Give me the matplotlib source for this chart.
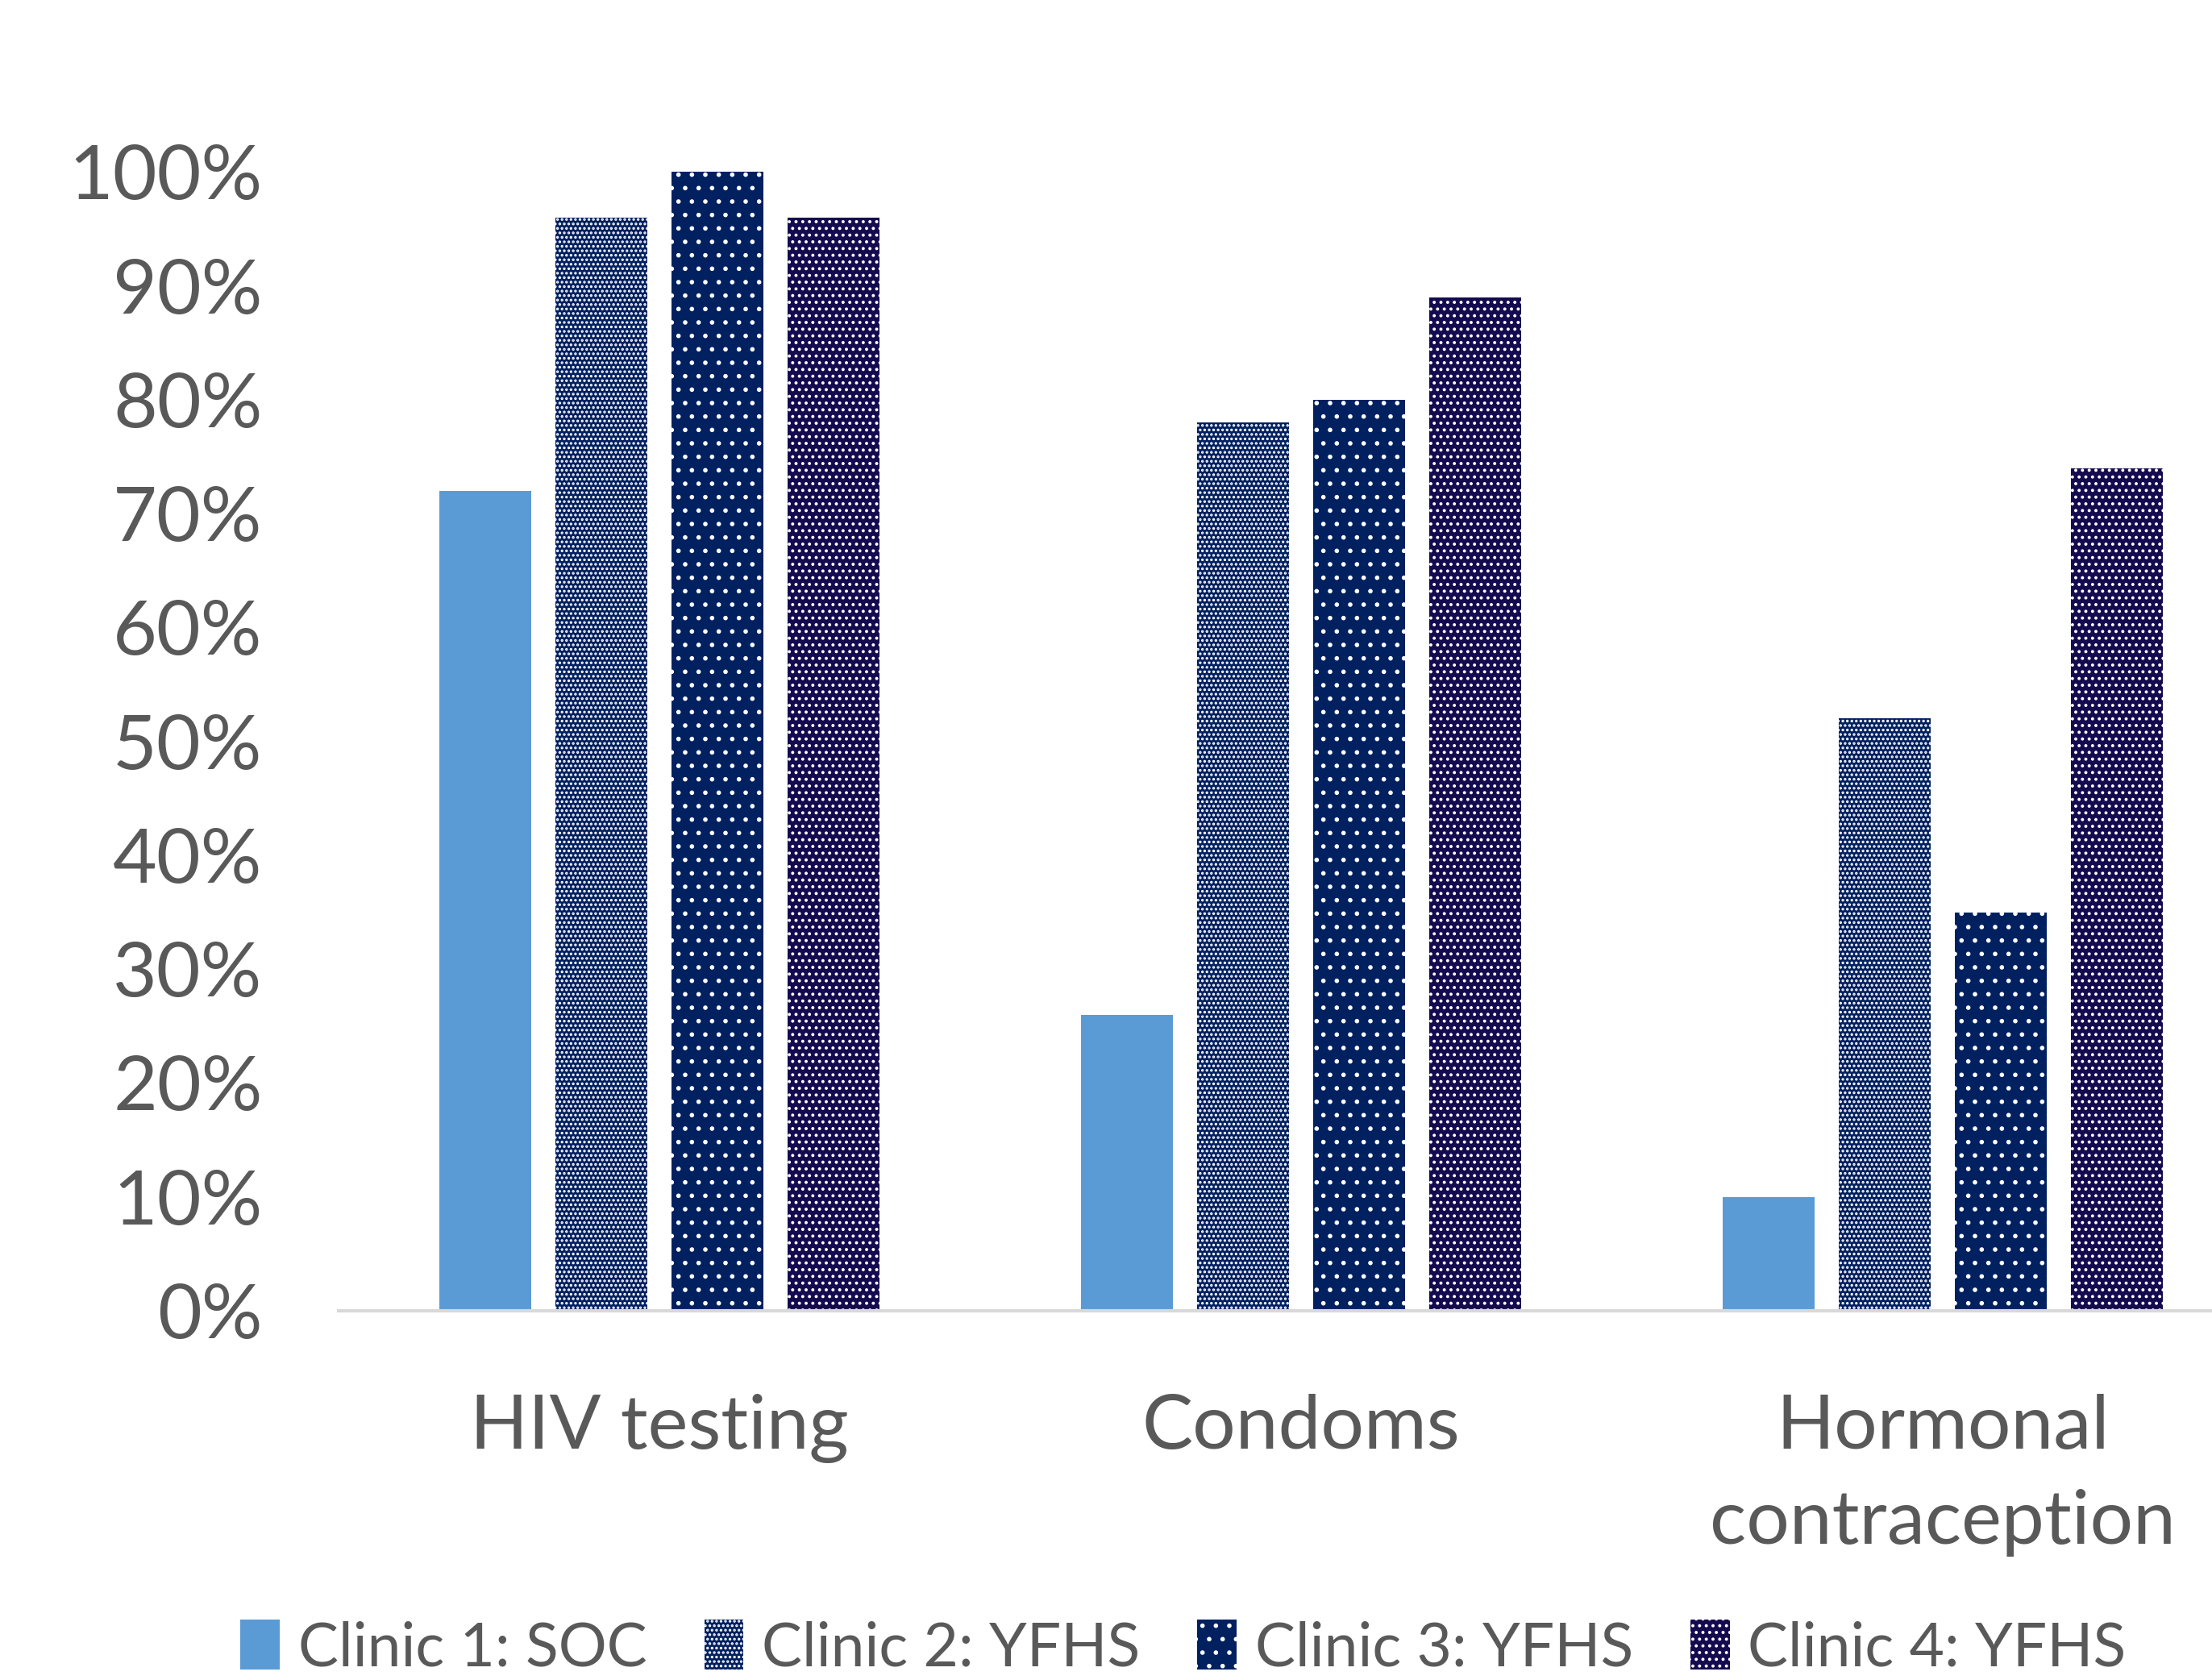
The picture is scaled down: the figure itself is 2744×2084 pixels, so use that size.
import matplotlib
matplotlib.use("Agg")
import matplotlib.pyplot as plt
import numpy as np

categories = ["HIV testing", "Condoms", "Hormonal\ncontraception"]
series = ["Clinic 1: SOC", "Clinic 2: YFHS", "Clinic 3: YFHS", "Clinic 4: YFHS"]
values = [
    [72, 26, 10],
    [96, 78, 52],
    [100, 80, 35],
    [96, 89, 74],
]
yticks = [0, 10, 20, 30, 40, 50, 60, 70, 80, 90, 100]
ytick_labels = [f"{t}%" for t in yticks]

colors = ["#5B9BD5", "#002060", "#002060", "#140A4F"]
hatches = [None, "......", "..", "...."]

plt.rcParams['font.family'] = ['Lato', 'DejaVu Sans']
plt.rcParams['hatch.linewidth'] = 0.8

fig = plt.figure(figsize=(13.72, 10.42), dpi=200)
ax = fig.add_axes([0.153, 0.2198, 0.847, 0.6778])

x = np.arange(len(categories))
width = 0.143
step = 0.181
for i, (s, vals) in enumerate(zip(series, values)):
    off = (i - 1.5) * step
    kw = dict(color=colors[i], linewidth=0)
    if hatches[i]:
        kw.update(hatch=hatches[i], edgecolor="white")
    ax.bar(x + off, vals, width, label=s, **kw)

ax.set_ylim(0, 100)
ax.set_xlim(-0.5, 2.42)
ax.set_yticks(yticks)
ax.set_yticklabels(ytick_labels)
ax.set_xticks(x)
ax.set_xticklabels(categories)
for sp in ["top", "right", "left"]:
    ax.spines[sp].set_visible(False)
ax.spines["bottom"].set_color("#D9D9D9")
ax.spines["bottom"].set_linewidth(1.5)
ax.tick_params(axis="both", length=0, colors="#595959", labelsize=34)
ax.tick_params(axis="y", pad=34)
ax.tick_params(axis="x", pad=37)
for lab in ax.get_xticklabels():
    lab.set_linespacing(1.5)

leg = fig.legend(loc="lower center", bbox_to_anchor=(0.535, -0.03), ncol=4, frameon=False,
                 fontsize=27, labelcolor="#595959", handlelength=0.65, handleheight=0.9,
                 handletextpad=0.3, columnspacing=0.95)

fig.savefig("out.png", dpi=200)
